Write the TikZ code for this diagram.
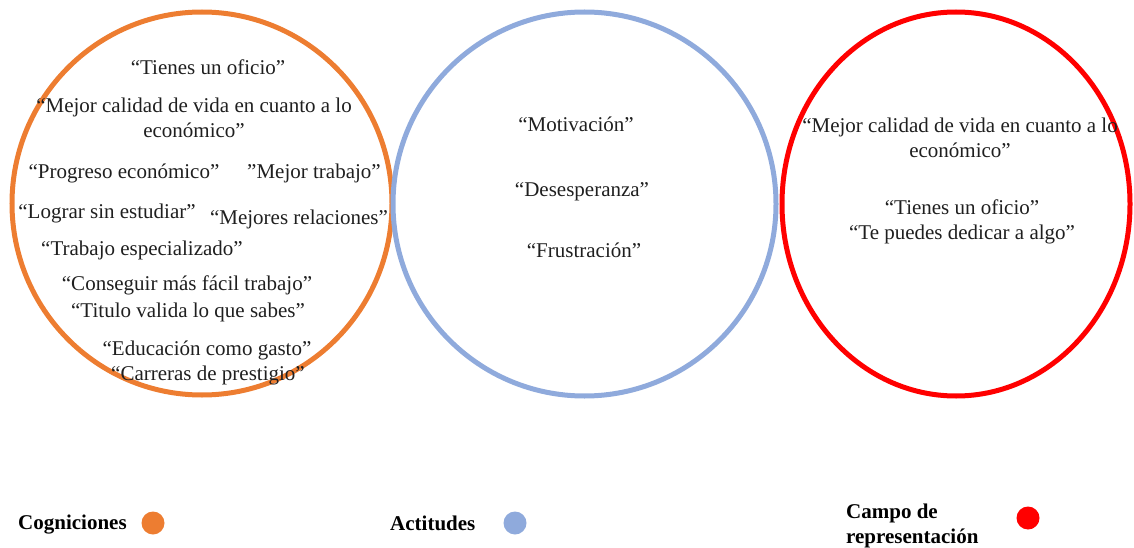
\documentclass[tikz,border=0pt]{standalone}
\usepackage{fontspec}
\setmainfont{Liberation Serif}
\definecolor{cogn}{HTML}{ED7D31}
\definecolor{actit}{HTML}{8FAADC}
\definecolor{campo}{HTML}{FF0000}
\begin{document}
\begin{tikzpicture}[x=1pt,y=-1pt,
  ring/.style={line width=5pt},
  phrase/.style={font=\fontsize{21}{25}\selectfont, align=center, inner sep=0pt, text=black!88},
  legendtext/.style={font=\fontsize{21}{25}\selectfont\bfseries, align=left, inner sep=0pt, anchor=west},
  legenddot/.style={circle, fill=#1, minimum size=23pt, inner sep=0pt}]
\useasboundingbox (0,0) rectangle (1134,548);

% the three rings
\draw[ring, cogn]  (202,203.5) ellipse [x radius=190, y radius=191.5];
\draw[ring, actit] (584.5,204) ellipse [x radius=191.5, y radius=192];
\draw[ring, campo] (956,204) ellipse [x radius=174, y radius=192];

% Cogniciones
\node[phrase] (c1)  at (208,67)  {“Tienes un oficio”};
\node[phrase] (c2)  at (194,118) {“Mejor calidad de vida en cuanto a lo\\económico”};
\node[phrase] (c3)  at (124,173) {“Progreso económico”};
\node[phrase] (c4)  at (314,173) {”Mejor trabajo”};
\node[phrase] (c5)  at (107,213) {“Lograr sin estudiar”};
\node[phrase] (c6)  at (299,219) {“Mejores relaciones”};
\node[phrase] (c7)  at (142,250) {“Trabajo especializado”};
\node[phrase] (c8)  at (187,285) {“Conseguir más fácil trabajo”};
\node[phrase] (c9)  at (188,312) {“Titulo valida lo que sabes”};
\node[phrase] (c10) at (207,350) {“Educación como gasto”};
\node[phrase] (c11) at (208,375) {“Carreras de prestigio”};

% Actitudes
\node[phrase] (a1) at (576,124) {“Motivación”};
\node[phrase] (a2) at (582,192) {“Desesperanza”};
\node[phrase] (a3) at (584,250) {“Frustración”};

% Campo de representación
\node[phrase] (r1) at (960,137.5) {“Mejor calidad de vida en cuanto a lo\\económico”};
\node[phrase] (r2) at (962,221.5) {“Tienes un oficio”\\“Te puedes dedicar a algo”};

% legend
\node[legendtext] (l1) at (18,525) {Cogniciones};
\node[legenddot=cogn] (d1) at (153,523) {};
\node[legendtext] (l2) at (390,523) {Actitudes};
\node[legenddot=actit] (d2) at (515,523) {};
\node[legendtext] (l3) at (846,525.5) {Campo de\\representación};
\node[legenddot=campo] (d3) at (1028,518) {};
\end{tikzpicture}
\end{document}
